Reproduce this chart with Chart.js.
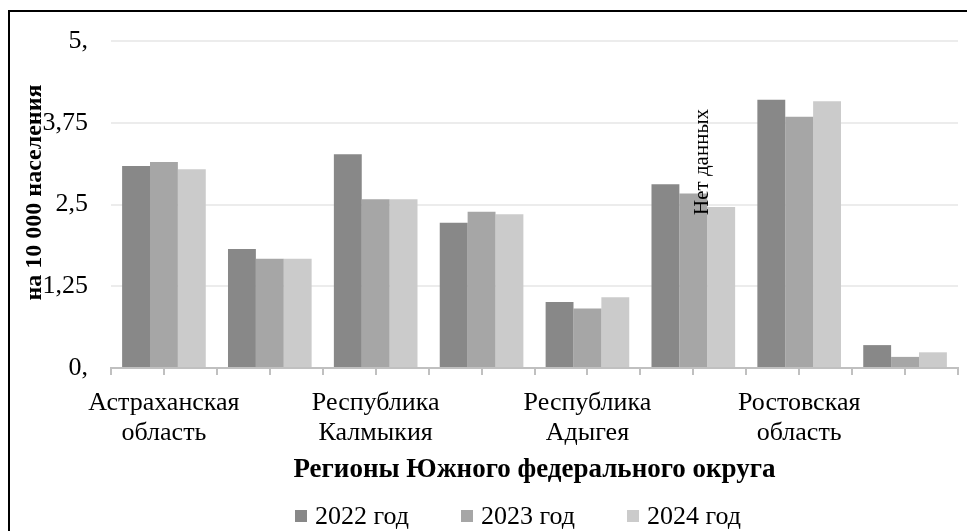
<!DOCTYPE html>
<html lang="ru">
<head>
<meta charset="utf-8">
<title>Регионы Южного федерального округа</title>
<script src="https://cdn.jsdelivr.net/npm/chart.js@4.4.1/dist/chart.umd.min.js"></script>
<style>
  html, body { margin: 0; padding: 0; background: #ffffff; }
  #wrap { position: relative; width: 967px; height: 531px; }
</style>
</head>
<body>
<div id="wrap"><canvas id="chart" width="967" height="531"></canvas></div>
<script>
// Region groups along the x axis; only every other group carries a caption
const categories = [
  ['Астраханская', 'область'],
  '',
  ['Республика', 'Калмыкия'],
  '',
  ['Республика', 'Адыгея'],
  '',
  ['Ростовская', 'область'],
  ''
];

// Rate per 10 000 population by year
const values2022 = [3.09, 1.82, 3.27, 2.22, 1.01, 2.81, 4.10, 0.35];
const values2023 = [3.15, 1.67, 2.58, 2.39, 0.91, 2.67, 3.84, 0.17];
const values2024 = [3.04, 1.67, 2.58, 2.35, 1.08, 2.46, 4.08, 0.24];

const seriesNames = ['2022 год', '2023 год', '2024 год'];
const seriesColors = ['#888888', '#a6a6a6', '#cbcbcb'];

// Y axis tick captions, from 0 to 5 in steps of 1.25
const yTickLabels = ['0,', '1,25', '2,5', '3,75', '5,'];

const noDataText = 'Нет данных';
const noDataIndex = 5;

const FONT = "'Liberation Serif', 'Times New Roman', serif";

// Outer frame along the top and left edges
const framePlugin = {
  id: 'frame',
  beforeDraw(chart) {
    const { ctx, width, height } = chart;
    ctx.save();
    ctx.fillStyle = '#ffffff';
    ctx.fillRect(0, 0, width, height);
    ctx.fillStyle = '#000000';
    ctx.fillRect(8, 10, width - 8, 2);
    ctx.fillRect(8, 10, 2, height - 10);
    ctx.restore();
  }
};

// Extra tick marks under the centre of every category group
const centerTicksPlugin = {
  id: 'centerTicks',
  afterDraw(chart) {
    const { ctx, scales: { x } } = chart;
    ctx.save();
    ctx.strokeStyle = '#c0c0c0';
    ctx.lineWidth = 2;
    for (let i = 0; i < categories.length; i++) {
      const px = Math.round(x.getPixelForValue(i));
      ctx.beginPath();
      ctx.moveTo(px, x.top);
      ctx.lineTo(px, x.top + 7);
      ctx.stroke();
    }
    ctx.restore();
  }
};

// Vertical note over the group without complete data
const noDataPlugin = {
  id: 'noData',
  afterDatasetsDraw(chart) {
    const { ctx, scales: { x, y } } = chart;
    const catWidth = x.width / categories.length;
    const px = x.getPixelForValue(noDataIndex) + catWidth * 0.09;
    const py = y.getPixelForValue(3.15);
    ctx.save();
    ctx.translate(px, py);
    ctx.rotate(-Math.PI / 2);
    ctx.font = '21px ' + FONT;
    ctx.fillStyle = '#000000';
    ctx.textAlign = 'center';
    ctx.textBaseline = 'middle';
    ctx.fillText(noDataText, 0, 0);
    ctx.restore();
  }
};

// Legend row under the axis title: square swatch followed by the series name
const legendPlugin = {
  id: 'seriesLegend',
  afterDraw(chart) {
    const { ctx } = chart;
    const startX = 295;
    const stride = 166;
    const cy = 516;
    const box = 12;
    ctx.save();
    ctx.font = '26px ' + FONT;
    ctx.textAlign = 'left';
    ctx.textBaseline = 'middle';
    chart.data.datasets.forEach((ds, i) => {
      const bx = startX + i * stride;
      ctx.fillStyle = ds.backgroundColor;
      ctx.fillRect(bx, cy - box / 2, box, box);
      ctx.fillStyle = '#000000';
      ctx.fillText(ds.label, bx + box + 8, cy + 1);
    });
    ctx.restore();
  }
};

const datasets = [values2022, values2023, values2024].map((vals, i) => ({
  label: seriesNames[i],
  data: vals,
  backgroundColor: seriesColors[i],
  borderWidth: 0,
  categoryPercentage: 0.79,
  barPercentage: 1.0
}));

new Chart(document.getElementById('chart'), {
  type: 'bar',
  data: { labels: categories, datasets },
  plugins: [framePlugin, centerTicksPlugin, noDataPlugin, legendPlugin],
  options: {
    responsive: false,
    animation: false,
    layout: { padding: { left: 10, right: 9, top: 41, bottom: 36 } },
    plugins: {
      tooltip: { enabled: false },
      legend: { display: false }
    },
    scales: {
      x: {
        afterFit(scale) { scale.height = 127; },
        grid: {
          offset: true,
          drawOnChartArea: false,
          drawTicks: true,
          tickLength: 7,
          color: '#c0c0c0',
          lineWidth: 2
        },
        border: { display: true, color: '#c0c0c0', width: 2 },
        ticks: {
          autoSkip: false,
          maxRotation: 0,
          minRotation: 0,
          padding: 13,
          color: '#000000',
          font: { family: FONT, size: 26, lineHeight: 1.15 }
        },
        title: {
          display: true,
          text: 'Регионы Южного федерального округа',
          color: '#000000',
          font: { family: FONT, size: 27, weight: 'bold' },
          padding: { top: 0, bottom: 9 }
        }
      },
      y: {
        min: 0,
        max: 5,
        afterFit(scale) { scale.width = 101; },
        afterBuildTicks(scale) {
          scale.ticks = yTickLabels.map((_, i) => ({ value: i * 1.25 }));
        },
        grid: {
          color: '#ececec',
          lineWidth: 2,
          drawTicks: false
        },
        border: { display: false },
        ticks: {
          padding: 23,
          color: '#000000',
          font: { family: FONT, size: 26 },
          callback: (value, index) => yTickLabels[index]
        },
        title: {
          display: true,
          text: '    на 10 000 населения',
          color: '#000000',
          font: { family: FONT, size: 24, weight: 'bold' },
          padding: { top: 10, bottom: 0 }
        }
      }
    }
  }
});
</script>
</body>
</html>
